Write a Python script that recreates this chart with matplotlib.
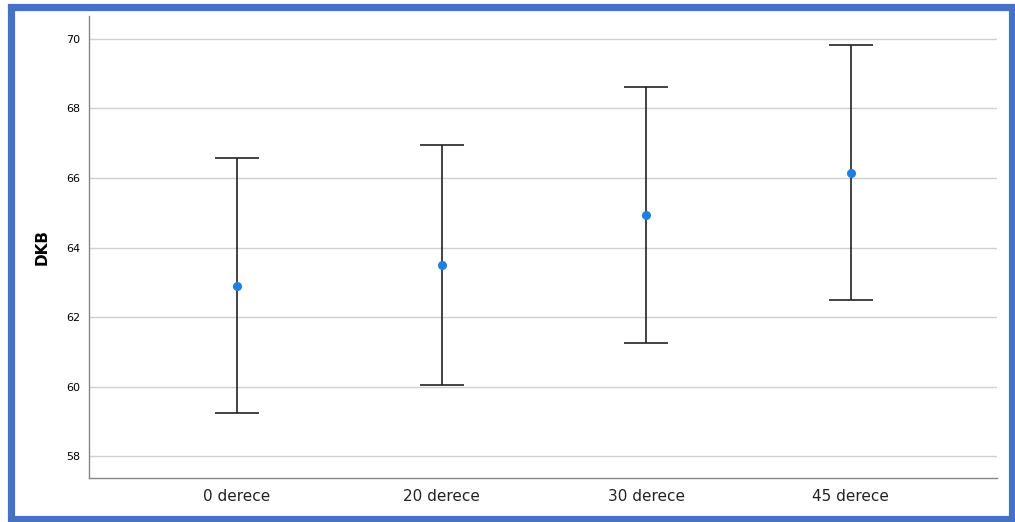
import numpy as np
import matplotlib.pyplot as plt
from matplotlib.patches import Rectangle

# data
groups = ['0 derece', '20 derece', '30 derece', '45 derece']
means = [62.89, 63.50, 64.94, 66.14]
upper = [66.58, 66.95, 68.62, 69.83]
lower = [59.24, 60.04, 61.25, 62.49]
yticks = [58, 60, 62, 64, 66, 68, 70]

W, H = 1015, 522
fig = plt.figure(figsize=(W / 100, H / 100), dpi=100)
ax = fig.add_axes([89 / W, 44 / H, (997 - 89) / W, (478 - 16) / H])

x = np.arange(len(groups))
means = np.array(means)
err = [means - np.array(lower), np.array(upper) - means]

ax.errorbar(x, means, yerr=err, fmt='none', ecolor='#222222', elinewidth=1.2,
            capsize=16, capthick=1.2, zorder=3)
ax.plot(x, means, 'o', color='#1f7fe0', markersize=5.5, zorder=4)

ax.set_xlim(-0.724, 3.716)
ax.set_ylim(57.37, 70.66)
ax.set_yticks(yticks)
ax.set_yticklabels([str(t) for t in yticks], fontsize=8)
ax.set_xticks(x)
ax.set_xticklabels(groups, fontsize=11, color='#222222')
ax.tick_params(axis='both', length=0, pad=6)
ax.tick_params(axis='x', pad=8)
ax.grid(axis='y', color='#d0d0d0', linewidth=1)
ax.set_axisbelow(True)
for s in ['top', 'right']:
    ax.spines[s].set_visible(False)
for s in ['left', 'bottom']:
    ax.spines[s].set_color('#888888')
    ax.spines[s].set_linewidth(1)
ax.set_ylabel('DKB', fontsize=11, fontweight='bold', labelpad=12)

# blue frame round the picture
fig.patches.append(Rectangle((10.5 / W, 3.5 / H), (1011.5 - 10.5) / W, (515 - 3.5) / H,
                             transform=fig.transFigure, fill=False,
                             edgecolor='#4472c4', linewidth=5.2))

fig.savefig('out.png', dpi=100)
